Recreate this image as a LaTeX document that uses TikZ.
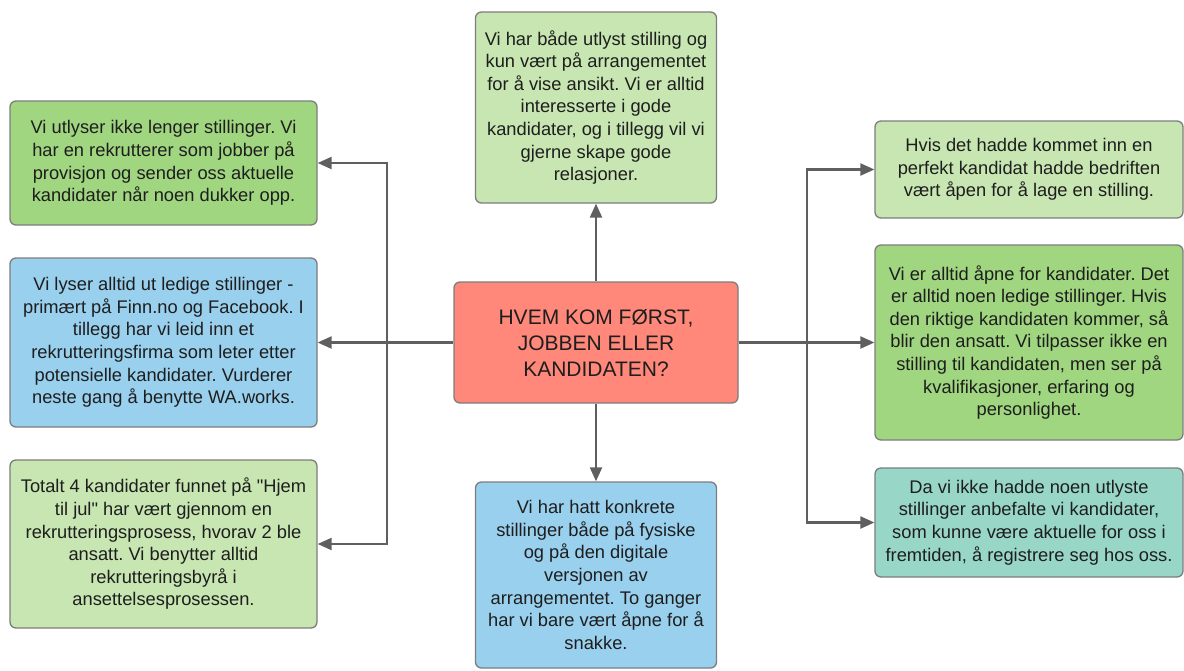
\documentclass[tikz,border=0pt]{standalone}
\usepackage{fontspec}
\setmainfont{Liberation Sans}[Ligatures=TeXOff]
\usetikzlibrary{arrows.meta}
\frenchspacing

\definecolor{greenA}{RGB}{160,214,128}
\definecolor{greenB}{RGB}{199,230,178}
\definecolor{blueA}{RGB}{153,208,238}
\definecolor{redA}{RGB}{255,136,122}
\definecolor{tealA}{RGB}{152,214,200}
\definecolor{edgeG}{RGB}{125,125,125}
\definecolor{lineG}{RGB}{95,95,95}
\definecolor{inkT}{RGB}{30,30,30}

\tikzset{
  card/.style={draw=edgeG, line width=1.3pt, rounded corners=6pt,
    inner sep=0pt, align=center, text=inkT,
    font=\fontsize{18.3}{22.6}\selectfont},
  sidecard/.style={card, minimum width=307pt},
  midcard/.style={card, minimum width=241pt},
  hub/.style={card, minimum width=284pt, minimum height=121pt,
    font=\fontsize{21}{26}\selectfont},
  link/.style={draw=lineG, line width=2.2pt,
    -{Triangle[length=14pt,width=12pt]}},
  trunk/.style={draw=lineG, line width=2.2pt}
}

\begin{document}
\frenchspacing
\begin{tikzpicture}[x=1pt,y=-1pt]
\useasboundingbox (0,0) rectangle (1184,670);

% central question
\node[hub, fill=redA] (c) at (596,342.5) {HVEM KOM FØRST,\\JOBBEN ELLER\\KANDIDATEN?};

% left column
\node[sidecard, fill=greenA, minimum height=124pt] (L1) at (163.5,163)
  {Vi utlyser ikke lenger stillinger. Vi\\har en rekrutterer som jobber på\\provisjon og sender oss aktuelle\\kandidater når noen dukker opp.};
\node[sidecard, fill=blueA, minimum height=169pt] (L2) at (163.5,342.5)
  {Vi lyser alltid ut ledige stillinger -\\primært på Finn.no og Facebook. I\\tillegg har vi leid inn et\\rekrutteringsfirma som leter etter\\potensielle kandidater. Vurderer\\neste gang å benytte WA.works.};
\node[sidecard, fill=greenB, minimum height=168pt] (L3) at (163.5,544)
  {Totalt 4 kandidater funnet på "Hjem\\til jul" har vært gjennom en\\rekrutteringsprosess, hvorav 2 ble\\ansatt. Vi benytter alltid\\rekrutteringsbyrå i\\ansettelsesprosessen.};

% top and bottom
\node[midcard, fill=greenB, minimum height=191pt] (T) at (596,107.5)
  {Vi har både utlyst stilling og\\kun vært på arrangementet\\for å vise ansikt. Vi er alltid\\interesserte i gode\\kandidater, og i tillegg vil vi\\gjerne skape gode\\relasjoner.};
\node[midcard, fill=blueA, minimum height=186pt] (B) at (596,575)
  {Vi har hatt konkrete\\stillinger både på fysiske\\og på den digitale\\versjonen av\\arrangementet. To ganger\\har vi bare vært åpne for å\\snakke.};

% right column
\node[sidecard, minimum width=308pt, fill=greenB, minimum height=97pt] (R1) at (1029,169.5)
  {Hvis det hadde kommet inn en\\perfekt kandidat hadde bedriften\\vært åpen for å lage en stilling.};
\node[sidecard, minimum width=308pt, fill=greenA, minimum height=195pt] (R2) at (1029,342.5)
  {Vi er alltid åpne for kandidater. Det\\er alltid noen ledige stillinger. Hvis\\den riktige kandidaten kommer, så\\blir den ansatt. Vi tilpasser ikke en\\stilling til kandidaten, men ser på\\kvalifikasjoner, erfaring og\\personlighet.};
\node[sidecard, minimum width=308pt, fill=tealA, minimum height=109pt] (R3) at (1029,522.5)
  {Da vi ikke hadde noen utlyste\\stillinger anbefalte vi kandidater,\\som kunne være aktuelle for oss i\\fremtiden, å registrere seg hos oss.};

% branch points on the trunks
\coordinate (lt) at (387,342.5);
\coordinate (rt) at (807,342.5);
\coordinate (ltTop) at (387,163);
\coordinate (ltBot) at (387,544);
\coordinate (rtTop) at (807,169.5);
\coordinate (rtBot) at (807,522.5);

% connectors
\path[trunk] (ltTop) -- (ltBot);
\path[trunk] (rtTop) -- (rtBot);
\path[link] (c.west) -- (L2.east);
\path[link] (lt) |- (L1.east);
\path[link] (lt) |- (L3.east);
\path[link] (c.east) -- (R2.west);
\path[link] (rt) |- (R1.west);
\path[link] (rt) |- (R3.west);
\path[link] (c.north) -- (T.south);
\path[link] (c.south) -- (B.north);
\end{tikzpicture}
\end{document}
